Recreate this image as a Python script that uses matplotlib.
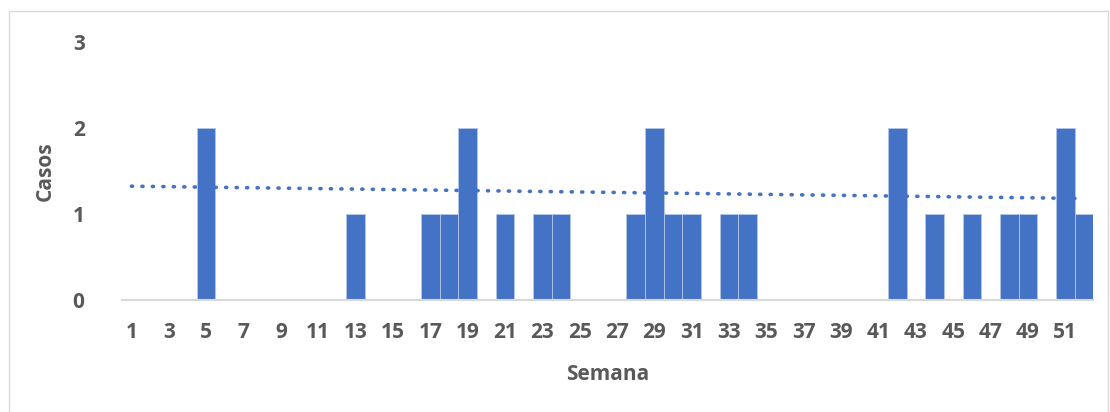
import numpy as np
import matplotlib.pyplot as plt
from matplotlib.patches import Rectangle

weeks = np.arange(1, 53)
case_weeks = [5, 13, 17, 18, 19, 21, 23, 24, 28, 29, 30, 31, 33, 34, 42, 44, 46, 48, 49, 51, 52]
case_vals = [2, 1, 1, 1, 2, 1, 1, 1, 1, 2, 1, 1, 1, 1, 2, 1, 1, 1, 1, 2, 1]

cases = np.zeros(len(weeks))
for w, v in zip(case_weeks, case_vals):
    cases[w - 1] = v

bar_color = '#4472c4'
text_color = '#595959'
plt.rcParams['font.family'] = ['Open Sans', 'DejaVu Sans']

fig = plt.figure(figsize=(11.1, 4.12), dpi=100)
ax = fig.add_axes([0.11, 0.272, 0.875, 0.626])

ax.bar(weeks, cases, width=1.0, color=bar_color, edgecolor='#b4c7e7', linewidth=0.6, zorder=2)

# linear trend (Excel style, over weeks with cases)
coef = np.polyfit(case_weeks, case_vals, 1)
ax.plot(weeks, np.polyval(coef, weeks), linestyle=(0, (0.3, 2.6)), color=bar_color,
        linewidth=2.6, dash_capstyle='round', zorder=3)

ax.set_xlim(0.5, 52.5)
ax.set_ylim(0, 3)
ax.set_yticks([0, 1, 2, 3])
ax.set_xticks(weeks[::2])
ax.set_xticklabels([str(w) for w in weeks[::2]])

for s in ['top', 'right', 'left']:
    ax.spines[s].set_visible(False)
ax.spines['bottom'].set_color('#d9d9d9')
ax.spines['bottom'].set_linewidth(1.5)
ax.tick_params(length=0, labelsize=15, labelcolor=text_color)
ax.tick_params(axis='x', pad=16)
ax.tick_params(axis='y', pad=27)
for lbl in ax.get_xticklabels() + ax.get_yticklabels():
    lbl.set_fontweight('bold')

ax.set_xlabel('Semana', fontsize=15, fontweight='bold', color=text_color, labelpad=15)
ax.set_ylabel('Casos', fontsize=15, fontweight='bold', color=text_color, labelpad=12)

fig.patches.append(Rectangle((0.008, -0.1), 0.99, 1.073, transform=fig.transFigure,
                             fill=False, edgecolor='#d9d9d9', linewidth=1))

fig.savefig('out.png', dpi=100)
